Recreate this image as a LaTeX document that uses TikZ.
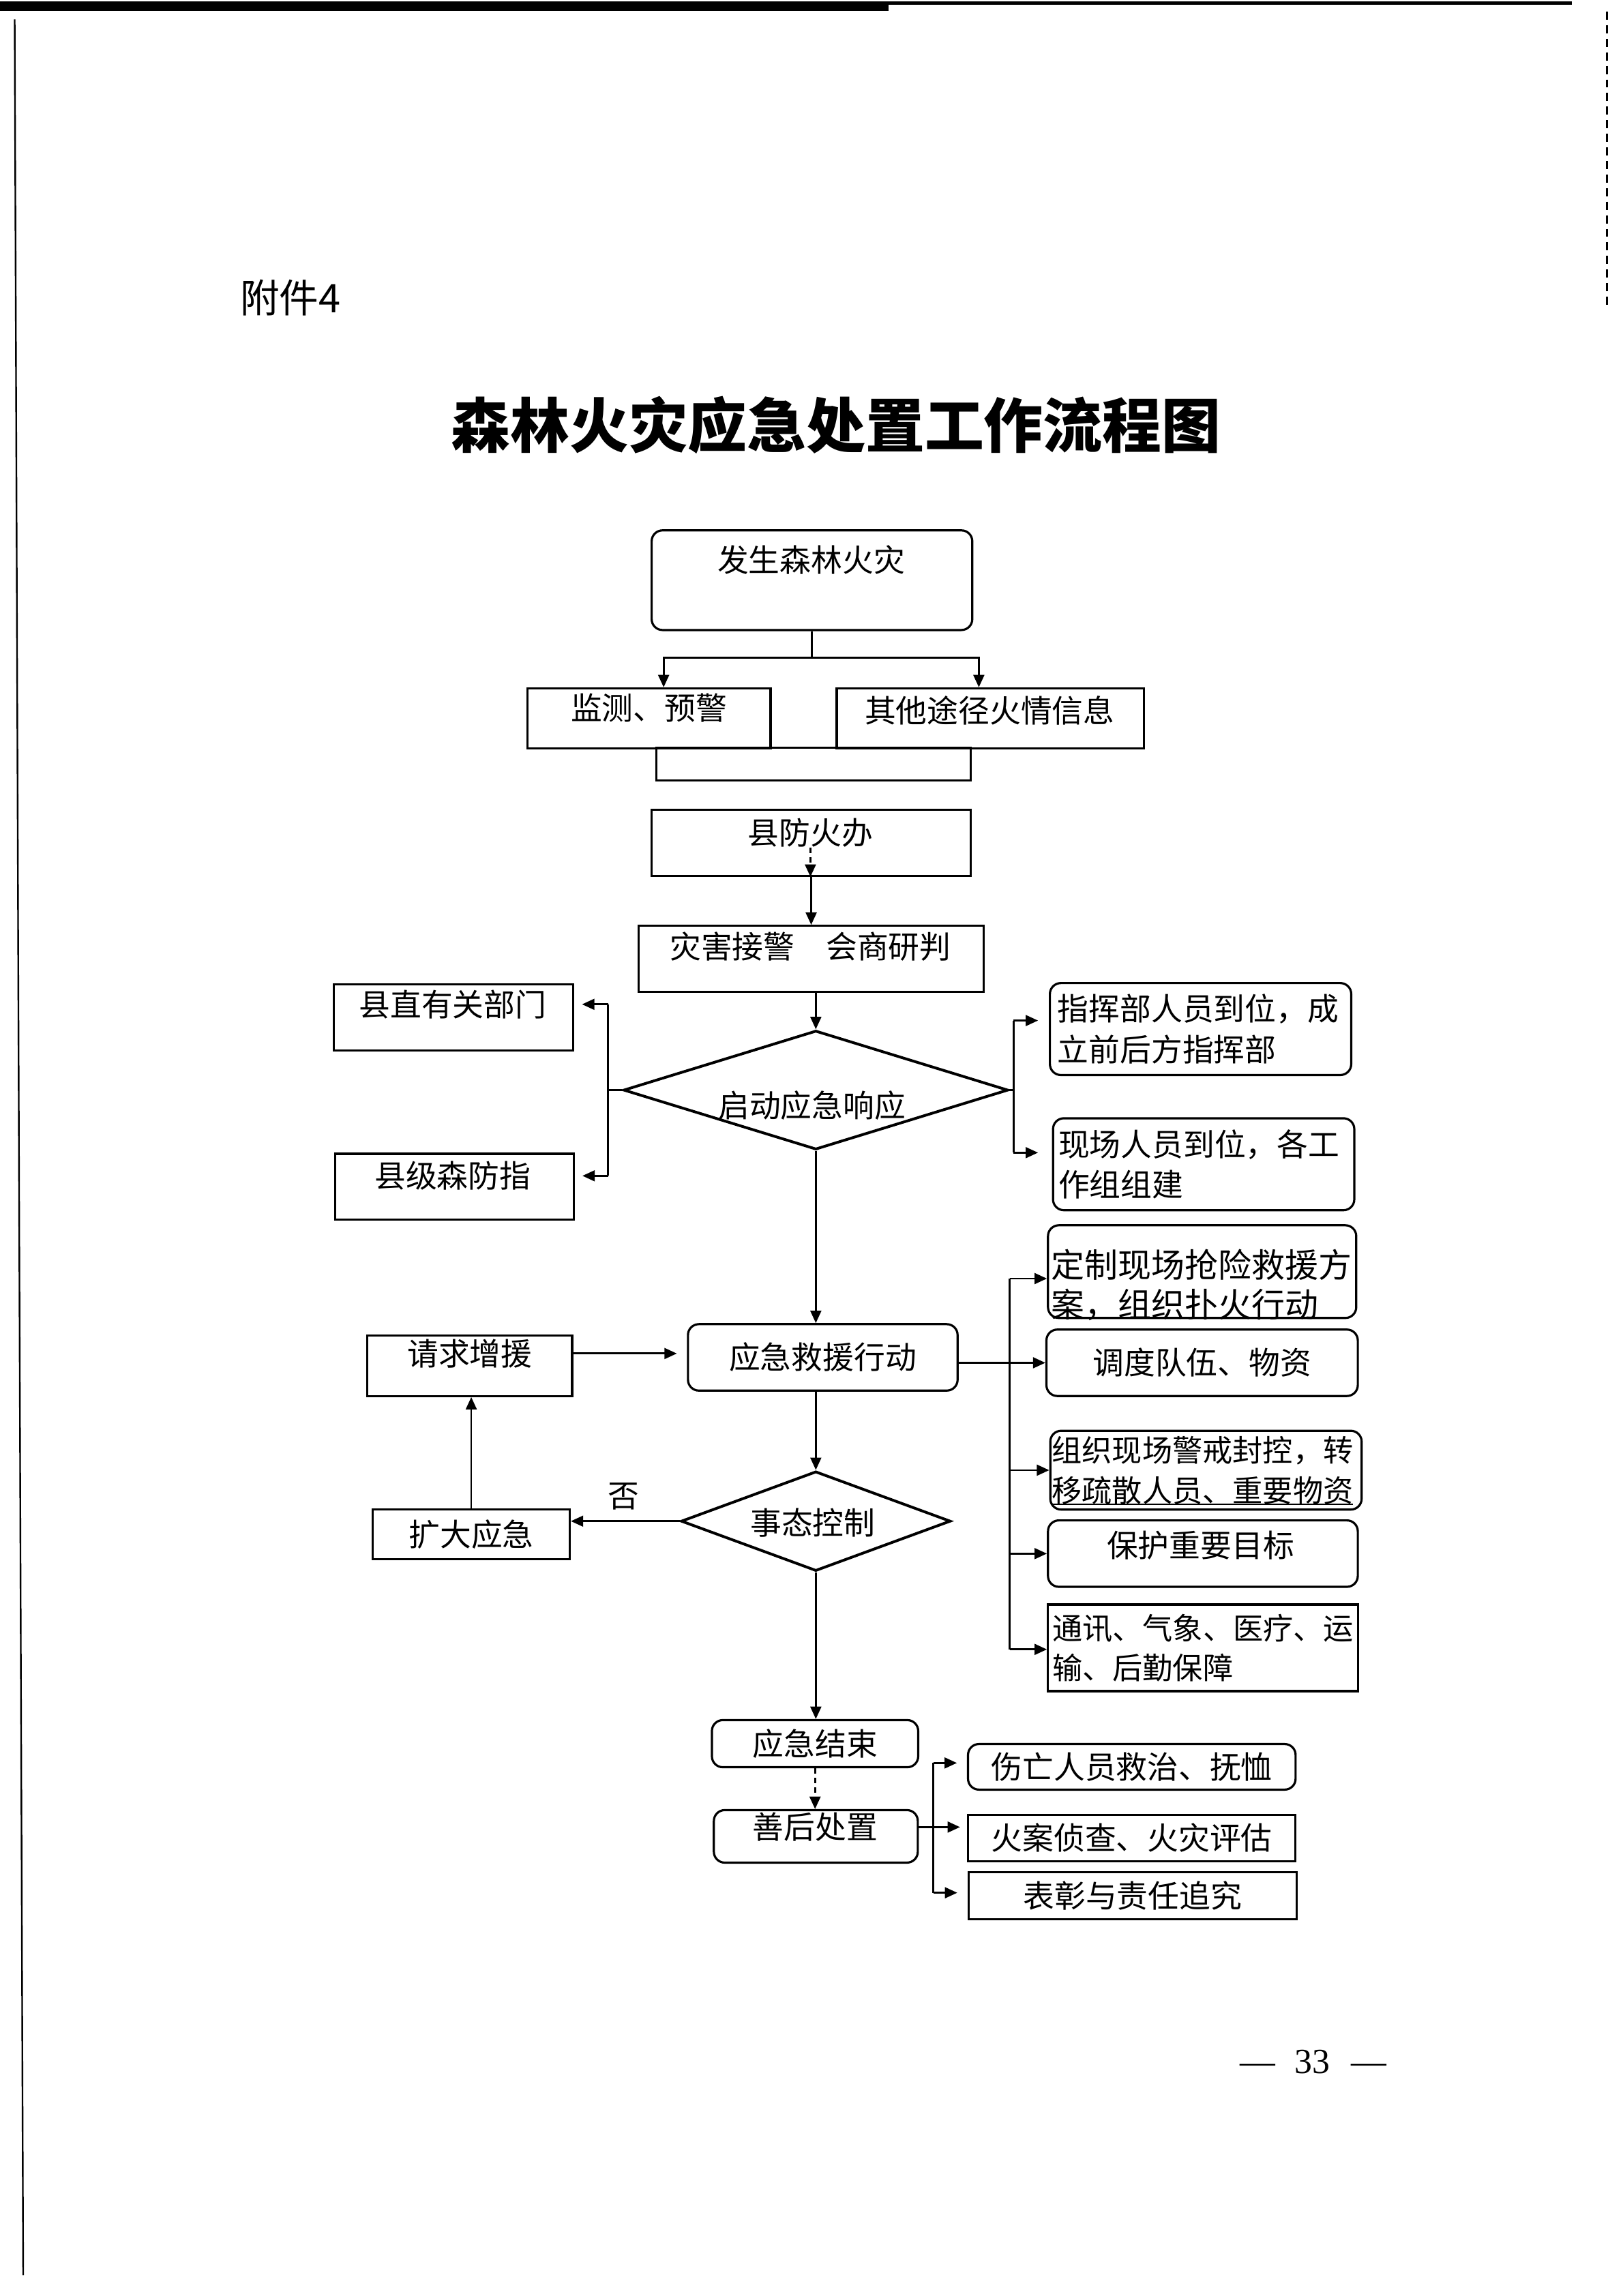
\documentclass[tikz,border=0pt]{standalone}
\usepackage{fontspec}
\setmainfont{Noto Sans CJK SC}
\newfontfamily\numfont{Liberation Serif}
\usetikzlibrary{shapes.geometric, arrows.meta}

\begin{document}
\begin{tikzpicture}[
		box/.style={draw, line width=0.8pt, inner sep=0pt, font=\fontsize{11.5}{15}\selectfont},
		rbox/.style={box, rounded corners=4pt},
		dia/.style={draw, diamond, line width=1pt, inner sep=0pt},
		lbl/.style={inner sep=0pt, font=\fontsize{11.5}{15}\selectfont},
		multi/.style={align=left, text width=#1},
		link/.style={line width=0.7pt},
		arr/.style={link, -{Triangle[length=1.6mm, width=1.4mm]}}
		]
		\useasboundingbox (0,0) rectangle (21,-29.72);
		
		% scan edges of the page
		\draw[line width=1.2mm] (0,-0.08) -- (11.5,-0.08);
		\draw[line width=0.4mm] (11.5,-0.04) -- (20.35,-0.04);
		\draw[line width=0.6pt] (0.19,-0.25) -- (0.30,-29.45);
		\draw[line width=0.6pt, dash pattern=on 3pt off 2pt] (20.8,-0.15) -- (20.8,-4.0);
		
		% heading
		\node[lbl, anchor=west, font=\fontsize{14.5}{17}\selectfont] (annex) at (3.10,-3.85) {附件4};
		\node[lbl, font=\fontsize{21.8}{26}\selectfont\bfseries] (title) at (10.82,-5.50) {森林火灾应急处置工作流程图};
		
		% fire reported
		\node[rbox, minimum width=4.15cm, minimum height=1.29cm] (fire) at (10.51,-7.51) {};
		\node[lbl] (fire-t) at (10.50,-7.25) {发生森林火灾};
		\node[box, minimum width=3.15cm, minimum height=0.78cm] (mon) at (8.40,-9.30) {};
		\node[lbl] (mon-t) at (8.40,-9.16) {监测、预警};
		\node[box, minimum width=3.98cm, minimum height=0.78cm] (other) at (12.82,-9.30) {};
		\node[lbl] (other-t) at (12.81,-9.20) {其他途径火情信息};
		\node[box, minimum width=4.07cm, minimum height=0.42cm] (brk) at (10.53,-9.89) {};
		\coordinate (split) at (10.51,-8.51);
		\draw[link] (fire.south) -- (split);
		\draw[arr] (split) -| ([xshift=1.9mm]mon.north);
		\draw[arr] (split) -| ([xshift=-1.5mm]other.north);
		
		% county office
		\node[box, minimum width=4.13cm, minimum height=0.85cm] (office) at (10.50,-10.91) {};
		\node[lbl] (office-t) at (10.49,-10.78) {县防火办};
		\draw[arr, dash pattern=on 2pt off 1.5pt] (office-t.south) -- (office-t.south |- office.south);
		\node[box, minimum width=4.47cm, minimum height=0.85cm] (recv) at (10.50,-12.41) {};
		\node[lbl] (recv-t) at (10.49,-12.25) {灾害接警\quad 会商研判};
		\draw[arr] (office.south) -- (office.south |- recv.north);
		
		% start response
		\node[dia, minimum width=4.98cm, minimum height=1.54cm] (start) at (10.56,-14.11) {};
		\node[lbl] (start-t) at (10.51,-14.31) {启动应急响应};
		\draw[arr] (start.north |- recv.south) -- (start.north);
		
		\node[box, minimum width=3.10cm, minimum height=0.86cm] (dept) at (5.87,-13.17) {};
		\node[lbl] (dept-t) at (5.86,-13.00) {县直有关部门};
		\node[box, minimum width=3.09cm, minimum height=0.85cm] (cmd) at (5.88,-15.36) {};
		\node[lbl] (cmd-t) at (5.86,-15.22) {县级森防指};
		\coordinate (jl) at (7.87,-14.11);
		\draw[link] (start.west) -- (jl);
		\draw[link] (jl |- dept-t) -- (jl |- cmd-t);
		\draw[arr, shorten >=1mm] (jl |- dept-t) -- (dept.east |- dept-t);
		\draw[arr, shorten >=1mm] (jl |- cmd-t) -- (cmd.east |- cmd-t);
		
		\node[rbox, multi=3.70cm, minimum width=3.90cm, minimum height=1.19cm] (cmdpost) at (15.54,-13.32) {指挥部人员到位，成\\立前后方指挥部};
		\node[rbox, multi=3.76cm, minimum width=3.90cm, minimum height=1.19cm] (field) at (15.58,-15.07) {现场人员到位，各工\\作组组建};
		\coordinate (jr1) at (13.12,-13.21);
		\coordinate (jr2) at (13.12,-14.92);
		\draw[link] (start.east) -- (start.east -| jr1);
		\draw[link] (jr1) -- (jr2);
		\draw[arr, shorten >=1.4mm] (jr1) -- (jr1 -| cmdpost.west);
		\draw[arr, shorten >=1.8mm] (jr2) -- (jr2 -| field.west);
		
		% rescue action
		\node[rbox, minimum width=3.49cm, minimum height=0.86cm] (act) at (10.65,-17.57) {应急救援行动};
		\draw[arr] (start.south) -- (start.south |- act.north);
		\node[box, minimum width=2.65cm, minimum height=0.78cm] (req) at (6.08,-17.68) {};
		\node[lbl] (req-t) at (6.08,-17.52) {请求增援};
		\draw[arr, shorten >=1.3mm] (req-t -| req.east) -- (req-t -| act.west);
		
		\node[rbox, minimum width=3.99cm, minimum height=1.20cm] (plan) at (15.56,-16.46) {};
		\node[lbl, multi=3.95cm, anchor=west, font=\fontsize{12.3}{14.6}\selectfont] (plan-t) at (13.60,-16.63) {定制现场抢险救援方\\案，组织扑火行动};
		\node[rbox, minimum width=4.03cm, minimum height=0.86cm] (disp) at (15.56,-17.64) {调度队伍、物资};
		\node[rbox, multi=3.99cm, minimum width=4.03cm, minimum height=1.02cm, font=\fontsize{11.1}{14.8}\selectfont] (guard) at (15.61,-19.03) {组织现场警戒封控，转\\移疏散人员、重要物资};
		\draw[line width=0.6pt] ([xshift=0.02cm, yshift=0.08cm]guard.south west) -- ([xshift=-0.13cm, yshift=0.08cm]guard.south east);
		\node[rbox, minimum width=4.01cm, minimum height=0.86cm] (prot) at (15.57,-20.11) {};
		\node[lbl] (prot-t) at (15.54,-20.00) {保护重要目标};
		\node[box, multi=3.90cm, minimum width=4.01cm, minimum height=1.12cm, font=\fontsize{11.1}{14.5}\selectfont] (supp) at (15.57,-21.33) {通讯、气象、医疗、运\\输、后勤保障};
		\coordinate (ja1) at (13.07,-16.55);
		\coordinate (ja2) at (13.07,-21.35);
		\draw[link] (ja1) -- (ja2);
		\draw[arr] (ja1) -- (ja1 -| plan.west);
		\draw[arr] (act.east |- disp) -- (disp.west);
		\draw[arr] (ja1 |- guard) -- (guard.west);
		\draw[arr] (ja1 |- prot) -- (prot.west);
		\draw[arr] (ja2) -- (ja2 -| supp.west);
		
		% under control?
		\node[dia, minimum width=3.49cm, minimum height=1.29cm] (ctrl) at (10.56,-19.69) {};
		\node[lbl] (ctrl-t) at (10.52,-19.71) {事态控制};
		\draw[arr] (ctrl.north |- act.south) -- (ctrl.north);
		\node[box, minimum width=2.55cm, minimum height=0.65cm] (exp) at (6.10,-19.86) {扩大应急};
		\draw[arr] (ctrl.west) -- (ctrl.west -| exp.east);
		\node[lbl] (no) at (8.07,-19.37) {否};
		\draw[arr] (exp.north) -- (exp.north |- req.south);
		
		% closing
		\node[rbox, minimum width=2.67cm, minimum height=0.61cm] (end) at (10.55,-22.57) {应急结束};
		\draw[arr] (ctrl.south) -- (ctrl.south |- end.north);
		\node[rbox, minimum width=2.64cm, minimum height=0.68cm] (after) at (10.56,-23.77) {};
		\node[lbl] (after-t) at (10.55,-23.65) {善后处置};
		\draw[arr, dash pattern=on 2pt off 1.5pt] (end.south) -- (end.south |- after.north);
		
		\node[rbox, minimum width=4.24cm, minimum height=0.59cm] (cas) at (14.65,-22.87) {伤亡人员救治、抚恤};
		\node[box, minimum width=4.24cm, minimum height=0.60cm] (inv) at (14.65,-23.79) {火案侦查、火灾评估};
		\node[box, minimum width=4.25cm, minimum height=0.61cm] (rew) at (14.66,-24.54) {表彰与责任追究};
		\coordinate (jp1) at (12.08,-22.82);
		\coordinate (jp2) at (12.08,-24.50);
		\draw[link] (jp1) -- (jp2);
		\draw[arr, shorten >=1.3mm] (jp1) -- (jp1 -| cas.west);
		\draw[arr, shorten >=0.9mm] (after-t -| after.east) -- (after-t -| inv.west);
		\draw[arr, shorten >=1.3mm] (jp2) -- (jp2 -| rew.west);
		
		% page number
		\node[lbl, font=\numfont\fontsize{13}{15}\selectfont] (page) at (17.00,-26.69) {—\hspace{0.25cm}33\hspace{0.28cm}—};
		
	\end{tikzpicture}
\end{document}
